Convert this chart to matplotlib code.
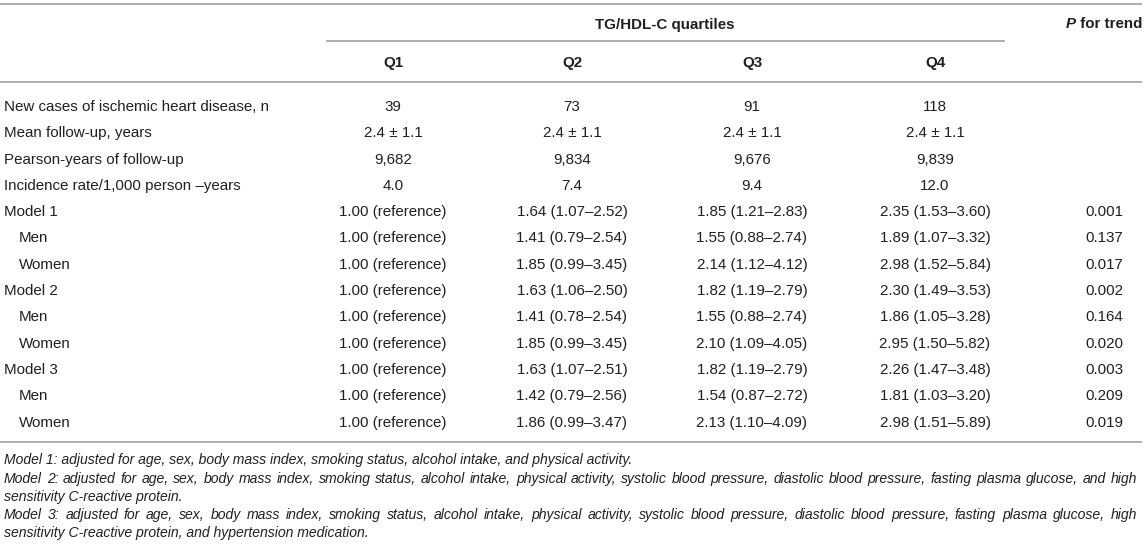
import matplotlib
matplotlib.use("Agg")
import matplotlib.pyplot as plt

plt.rcParams['font.family'] = ['Liberation Sans', 'DejaVu Sans']

# table content
group_title = "TG/HDL-C quartiles"
quartiles = ["Q1", "Q2", "Q3", "Q4"]

row_labels = [
    "New cases of ischemic heart disease, n",
    "Mean follow-up, years",
    "Pearson-years of follow-up",
    "Incidence rate/1,000 person \u2013years",
    "Model 1", "Men", "Women",
    "Model 2", "Men", "Women",
    "Model 3", "Men", "Women",
]
indented = [False, False, False, False,
            False, True, True,
            False, True, True,
            False, True, True]

q1_vals = ["39", "2.4 \u00b1 1.1", "9,682", "4.0"] + ["1.00 (reference)"] * 9
q2_vals = ["73", "2.4 \u00b1 1.1", "9,834", "7.4",
           "1.64 (1.07\u20132.52)", "1.41 (0.79\u20132.54)", "1.85 (0.99\u20133.45)",
           "1.63 (1.06\u20132.50)", "1.41 (0.78\u20132.54)", "1.85 (0.99\u20133.45)",
           "1.63 (1.07\u20132.51)", "1.42 (0.79\u20132.56)", "1.86 (0.99\u20133.47)"]
q3_vals = ["91", "2.4 \u00b1 1.1", "9,676", "9.4",
           "1.85 (1.21\u20132.83)", "1.55 (0.88\u20132.74)", "2.14 (1.12\u20134.12)",
           "1.82 (1.19\u20132.79)", "1.55 (0.88\u20132.74)", "2.10 (1.09\u20134.05)",
           "1.82 (1.19\u20132.79)", "1.54 (0.87\u20132.72)", "2.13 (1.10\u20134.09)"]
q4_vals = ["118", "2.4 \u00b1 1.1", "9,839", "12.0",
           "2.35 (1.53\u20133.60)", "1.89 (1.07\u20133.32)", "2.98 (1.52\u20135.84)",
           "2.30 (1.49\u20133.53)", "1.86 (1.05\u20133.28)", "2.95 (1.50\u20135.82)",
           "2.26 (1.47\u20133.48)", "1.81 (1.03\u20133.20)", "2.98 (1.51\u20135.89)"]
p_trend = ["", "", "", "",
           "0.001", "0.137", "0.017",
           "0.002", "0.164", "0.020",
           "0.003", "0.209", "0.019"]

# (text, justified?)
footnotes = [
    ("Model 1: adjusted for age, sex, body mass index, smoking status, alcohol intake, "
     "and physical activity.", False),
    ("Model 2: adjusted for age, sex, body mass index, smoking status, alcohol intake, "
     "physical activity, systolic blood pressure, diastolic blood pressure, fasting plasma "
     "glucose, and high", True),
    ("sensitivity C-reactive protein.", False),
    ("Model 3: adjusted for age, sex, body mass index, smoking status, alcohol intake, "
     "physical activity, systolic blood pressure, diastolic blood pressure, fasting plasma "
     "glucose, high", True),
    ("sensitivity C-reactive protein, and hypertension medication.", False),
]

# layout (pixels)
W, H = 1145, 552
text_color = "#231f20"
rule_color = "#a8a8a8"
fs = 10.9
fs_note = 10.1
col_x = [393, 572, 752, 935]
p_x = 1104
row_y0, row_step = 105.5, 26.3
note_y = [459, 478, 496, 514, 532]
base = 5.5       # baseline offset from row centre
base_note = 5

fig = plt.figure(figsize=(W / 100, H / 100), dpi=100)
ax = fig.add_axes([0, 0, 1, 1])
ax.set_xlim(0, W)
ax.set_ylim(H, 0)
ax.axis("off")
renderer = fig.canvas.get_renderer()

# rules
ax.plot([0, 1141], [4, 4], color=rule_color, lw=1.3)
ax.plot([327, 1004], [41, 41], color=rule_color, lw=1.3)
ax.plot([0, 1141], [82, 82], color=rule_color, lw=1.3)
ax.plot([0, 1141], [442, 442], color=rule_color, lw=1.3)

# header
ax.text(665, 23 + base, group_title, ha="center", va="baseline", fontsize=fs,
        fontweight="bold", color=text_color)
for x, q in zip(col_x, quartiles):
    ax.text(x, 61 + base, q, ha="center", va="baseline", fontsize=fs,
            fontweight="bold", color=text_color)

tp = ax.text(0, 23 + base, "P", fontsize=fs, fontweight="bold", fontstyle="italic",
             va="baseline", ha="left", color=text_color)
tr = ax.text(0, 23 + base, " for trend", fontsize=fs, fontweight="bold",
             va="baseline", ha="left", color=text_color)
wp = tp.get_window_extent(renderer).width
wr = tr.get_window_extent(renderer).width
start = p_x - (wp + wr) / 2
tp.set_x(start)
tr.set_x(start + wp)

# body
for i, label in enumerate(row_labels):
    y = round(row_y0 + i * row_step + base)
    ax.text(19 if indented[i] else 4, y, label, ha="left", va="baseline",
            fontsize=fs, color=text_color)
    for x, vals in zip(col_x, [q1_vals, q2_vals, q3_vals, q4_vals]):
        ax.text(x, y, vals[i], ha="center", va="baseline", fontsize=fs,
                color=text_color)
    if p_trend[i]:
        ax.text(p_x, y, p_trend[i], ha="center", va="baseline", fontsize=fs,
                color=text_color)

# footnotes
left, right = 4, 1137
for (line, justify), y in zip(footnotes, note_y):
    y = y + base_note
    if not justify:
        ax.text(left, y, line, ha="left", va="baseline", fontsize=fs_note,
                fontstyle="italic", color=text_color)
        continue
    words = line.split()
    items = [ax.text(0, y, w, ha="left", va="baseline", fontsize=fs_note,
                     fontstyle="italic", color=text_color) for w in words]
    widths = [t.get_window_extent(renderer).width for t in items]
    gap = (right - left - sum(widths)) / (len(words) - 1)
    x = left
    for t, w in zip(items, widths):
        t.set_x(x)
        x += w + gap

fig.savefig("out.png", dpi=100)
